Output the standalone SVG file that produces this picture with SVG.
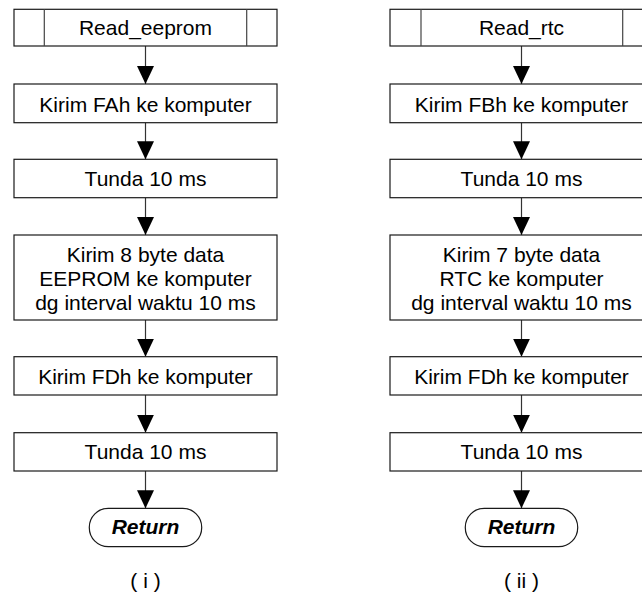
<svg xmlns="http://www.w3.org/2000/svg" width="642" height="595" viewBox="0 0 642 595">
<style>
.box{fill:#fff;stroke:#1a1a1a;stroke-width:1.2}
.div{stroke:#444;stroke-width:1.2}
.t{font-family:"Liberation Sans",Arial,sans-serif;font-size:21px;fill:#000;text-anchor:middle}
.ret{font-weight:bold;font-style:italic}
.c{stroke:#333;stroke-width:1.2;fill:none;marker-end:url(#ah)}
</style>
<defs>
<marker id="ah" viewBox="0 0 18 17" refX="18" refY="8.5" markerWidth="18" markerHeight="17" markerUnits="userSpaceOnUse" orient="auto">
<path d="M0,0 L18,8.5 L0,17 Z" fill="#000"/>
</marker>
</defs>
<rect width="642" height="595" fill="#fff"/>
<g id="connectors">
<path class="c" d="M145.5,46 V84"/>
<path class="c" d="M145.5,122.7 V159.3"/>
<path class="c" d="M145.5,197.7 V235"/>
<path class="c" d="M145.5,320 V356.7"/>
<path class="c" d="M145.5,395 V432.7"/>
<path class="c" d="M145.5,471 V508.3"/>
<path class="c" d="M521.5,46 V84"/>
<path class="c" d="M521.5,122.7 V159.3"/>
<path class="c" d="M521.5,197.7 V235"/>
<path class="c" d="M521.5,320 V356.7"/>
<path class="c" d="M521.5,395 V432.7"/>
<path class="c" d="M521.5,471 V508.3"/>
</g>
<g id="L_read">
<rect class="box" x="14" y="9.3" width="263" height="36.7"/>
<line class="div" x1="44.3" y1="9.3" x2="44.3" y2="46"/>
<line class="div" x1="246.7" y1="9.3" x2="246.7" y2="46"/>
<text class="t" x="145.5" y="35">Read_eeprom</text>
</g>
<g id="L_kirimFA">
<rect class="box" x="14" y="84" width="263" height="38.7"/>
<text class="t" x="145.5" y="111.5">Kirim FAh ke komputer</text>
</g>
<g id="L_tunda1">
<rect class="box" x="14" y="159.3" width="263" height="38.4"/>
<text class="t" x="145.5" y="185.5">Tunda 10 ms</text>
</g>
<g id="L_kirim8">
<rect class="box" x="14" y="235" width="263" height="85"/>
<text class="t" x="145.5" y="261.5">Kirim 8 byte data</text>
<text class="t" x="145.5" y="285.5">EEPROM ke komputer</text>
<text class="t" x="145.5" y="309.5">dg interval waktu 10 ms</text>
</g>
<g id="L_kirimFD">
<rect class="box" x="14" y="356.7" width="263" height="38.3"/>
<text class="t" x="145.5" y="383.5">Kirim FDh ke komputer</text>
</g>
<g id="L_tunda2">
<rect class="box" x="14" y="432.7" width="263" height="38.3"/>
<text class="t" x="145.5" y="458.5">Tunda 10 ms</text>
</g>
<g id="L_return">
<rect class="box" x="89.3" y="508.3" width="112.4" height="38.4" rx="19" ry="19"/>
<text class="t ret" x="145.5" y="534">Return</text>
</g>
<g id="L_caption">
<text class="t" x="145.5" y="588">( i )</text>
</g>
<g id="R_read">
<rect class="box" x="390" y="9.3" width="263" height="36.7"/>
<line class="div" x1="421" y1="9.3" x2="421" y2="46"/>
<line class="div" x1="622.7" y1="9.3" x2="622.7" y2="46"/>
<text class="t" x="521.5" y="35">Read_rtc</text>
</g>
<g id="R_kirimFB">
<rect class="box" x="390" y="84" width="263" height="38.7"/>
<text class="t" x="521.5" y="111.5">Kirim FBh ke komputer</text>
</g>
<g id="R_tunda1">
<rect class="box" x="390" y="159.3" width="263" height="38.4"/>
<text class="t" x="521.5" y="185.5">Tunda 10 ms</text>
</g>
<g id="R_kirim7">
<rect class="box" x="390" y="235" width="263" height="85"/>
<text class="t" x="521.5" y="261.5">Kirim 7 byte data</text>
<text class="t" x="521.5" y="285.5">RTC ke komputer</text>
<text class="t" x="521.5" y="309.5">dg interval waktu 10 ms</text>
</g>
<g id="R_kirimFD">
<rect class="box" x="390" y="356.7" width="263" height="38.3"/>
<text class="t" x="521.5" y="383.5">Kirim FDh ke komputer</text>
</g>
<g id="R_tunda2">
<rect class="box" x="390" y="432.7" width="263" height="38.3"/>
<text class="t" x="521.5" y="458.5">Tunda 10 ms</text>
</g>
<g id="R_return">
<rect class="box" x="465.3" y="508.3" width="112.4" height="38.4" rx="19" ry="19"/>
<text class="t ret" x="521.5" y="534">Return</text>
</g>
<g id="R_caption">
<text class="t" x="521.5" y="588">( ii )</text>
</g>
</svg>
